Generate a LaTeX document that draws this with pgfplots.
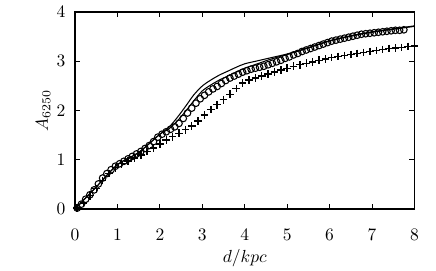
\documentclass[border=0pt]{standalone}
\usepackage{pgfplots}
\pgfplotsset{compat=1.18}
\usepackage{pgfplotstable}

\pgfplotstableread{
d A
0.05 0.02
0.15 0.10
0.25 0.20
0.35 0.29
0.45 0.39
0.55 0.51
0.65 0.63
0.75 0.72
0.85 0.80
0.95 0.87
1.05 0.92
1.15 0.97
1.25 1.02
1.35 1.07
1.45 1.12
1.55 1.17
1.65 1.23
1.75 1.29
1.85 1.37
1.95 1.46
2.05 1.52
2.15 1.57
2.25 1.62
2.35 1.67
2.45 1.74
2.55 1.84
2.65 1.95
2.75 2.05
2.85 2.15
2.95 2.24
3.05 2.31
3.15 2.38
3.25 2.44
3.35 2.49
3.45 2.55
3.55 2.61
3.65 2.66
3.75 2.70
3.85 2.74
3.95 2.78
4.05 2.81
4.15 2.84
4.25 2.86
4.35 2.88
4.45 2.90
4.55 2.93
4.65 2.96
4.75 2.99
4.85 3.02
4.95 3.06
5.05 3.09
5.15 3.13
5.25 3.16
5.35 3.20
5.45 3.23
5.55 3.26
5.65 3.29
5.75 3.32
5.85 3.35
5.95 3.38
6.05 3.41
6.15 3.43
6.25 3.45
6.35 3.47
6.45 3.49
6.55 3.51
6.65 3.53
6.75 3.55
6.85 3.56
6.95 3.57
7.05 3.58
7.15 3.59
7.25 3.60
7.35 3.61
7.45 3.62
7.55 3.63
7.65 3.63
7.75 3.64
}\circdata

\pgfplotstableread{
d A
0.05 0.02
0.20 0.12
0.35 0.27
0.50 0.42
0.65 0.58
0.80 0.72
0.95 0.84
1.10 0.92
1.25 0.98
1.40 1.04
1.55 1.10
1.70 1.17
1.85 1.24
2.00 1.32
2.15 1.40
2.30 1.47
2.45 1.54
2.60 1.61
2.75 1.69
2.90 1.79
3.05 1.91
3.20 2.02
3.35 2.12
3.50 2.22
3.65 2.33
3.80 2.45
3.95 2.56
4.10 2.62
4.25 2.66
4.40 2.70
4.55 2.74
4.70 2.78
4.85 2.82
5.00 2.86
5.15 2.90
5.30 2.93
5.45 2.96
5.60 2.99
5.75 3.02
5.90 3.05
6.05 3.08
6.20 3.10
6.35 3.12
6.50 3.14
6.65 3.16
6.80 3.18
6.95 3.20
7.10 3.22
7.25 3.24
7.40 3.26
7.55 3.27
7.70 3.28
7.85 3.30
8.00 3.31
}\plusdata

\pgfplotstableread{
d A
0.0 0.0
0.5 0.45
1.0 0.90
1.5 1.15
2.0 1.52
2.2 1.65
2.4 1.85
2.6 2.08
2.8 2.32
3.0 2.50
3.2 2.62
3.4 2.72
3.6 2.80
3.8 2.88
4.0 2.95
4.3 3.01
4.6 3.07
5.0 3.15
5.5 3.28
6.0 3.42
6.5 3.52
7.0 3.60
7.5 3.66
8.0 3.72
}\lineA

\pgfplotstableread{
d A
0.0 0.0
0.5 0.45
1.0 0.90
1.5 1.15
2.0 1.52
2.2 1.62
2.4 1.78
2.6 1.98
2.8 2.20
3.0 2.40
3.2 2.52
3.4 2.62
3.6 2.70
3.8 2.78
4.0 2.86
4.3 2.95
4.6 3.04
5.0 3.14
5.5 3.27
6.0 3.41
6.5 3.51
7.0 3.59
7.5 3.65
8.0 3.71
}\lineB

\begin{document}
\begin{tikzpicture}
\useasboundingbox (-42.9pt,-34.9pt) rectangle (206.3pt,119.5pt);
\begin{axis}[
  at={(0,0)}, anchor=south west,
  scale only axis,
  width=194pt, height=112.6pt,
  xmin=0, xmax=8, ymin=0, ymax=4,
  xtick={0,...,8}, ytick={0,...,4},
  tick align=inside,
  axis line style={line width=0.9pt},
  major tick length=3pt,
  tick style={line width=0.6pt, black},
  xticklabel style={yshift=-8pt},
  yticklabel style={xshift=-2pt},
  xlabel={$d/kpc$}, ylabel={$A_{6250}$},
  ylabel style={at={(axis description cs:-0.094,0.5)}, anchor=center, rotate=0},
  xlabel style={at={(axis description cs:0.5,-0.249)}, anchor=center},
]
\addplot[black, line width=0.6pt, smooth] table[x=d,y=A] {\lineA};
\addplot[black, line width=0.6pt, smooth] table[x=d,y=A] {\lineB};
\addplot[only marks, mark=o, mark size=1.9pt, mark options={line width=0.6pt}] table[x=d,y=A] {\circdata};
\addplot[only marks, mark=+, mark size=2.2pt, mark options={line width=0.8pt}] table[x=d,y=A] {\plusdata};
\end{axis}
\end{tikzpicture}
\end{document}
